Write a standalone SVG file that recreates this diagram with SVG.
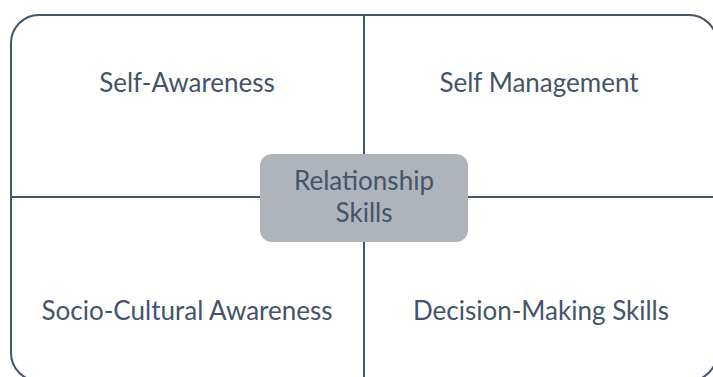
<svg xmlns="http://www.w3.org/2000/svg" width="713" height="377" viewBox="0 0 713 377">
<style>
.ln{fill:none;stroke:#44546A;stroke-width:2}
.t{font-family:Lato,"Liberation Sans",sans-serif;font-size:26px;fill:#44546A;text-anchor:middle}
</style>
<rect width="713" height="377" fill="#FFFFFF"/>
<g id="frame">
<rect class="ln" x="11" y="15" width="706" height="366" rx="28" ry="28"/>
</g>
<g id="connectors">
<line class="ln" x1="364" y1="15" x2="364" y2="381"/>
<line class="ln" x1="11" y1="197" x2="717" y2="197"/>
</g>
<g id="self-awareness"><text class="t" x="187" y="92">Self-Awareness</text></g>
<g id="self-management"><text class="t" x="539" y="92">Self Management</text></g>
<g id="socio-cultural"><text class="t" x="187" y="320">Socio-Cultural Awareness</text></g>
<g id="decision-making"><text class="t" x="541" y="320">Decision-Making Skills</text></g>
<g id="relationship">
<rect x="260" y="154" width="208" height="88" rx="12" ry="12" fill="#AFB3BA"/>
<text class="t" x="364" y="190">Relationship</text>
<text class="t" x="364" y="222">Skills</text>
</g>
</svg>
